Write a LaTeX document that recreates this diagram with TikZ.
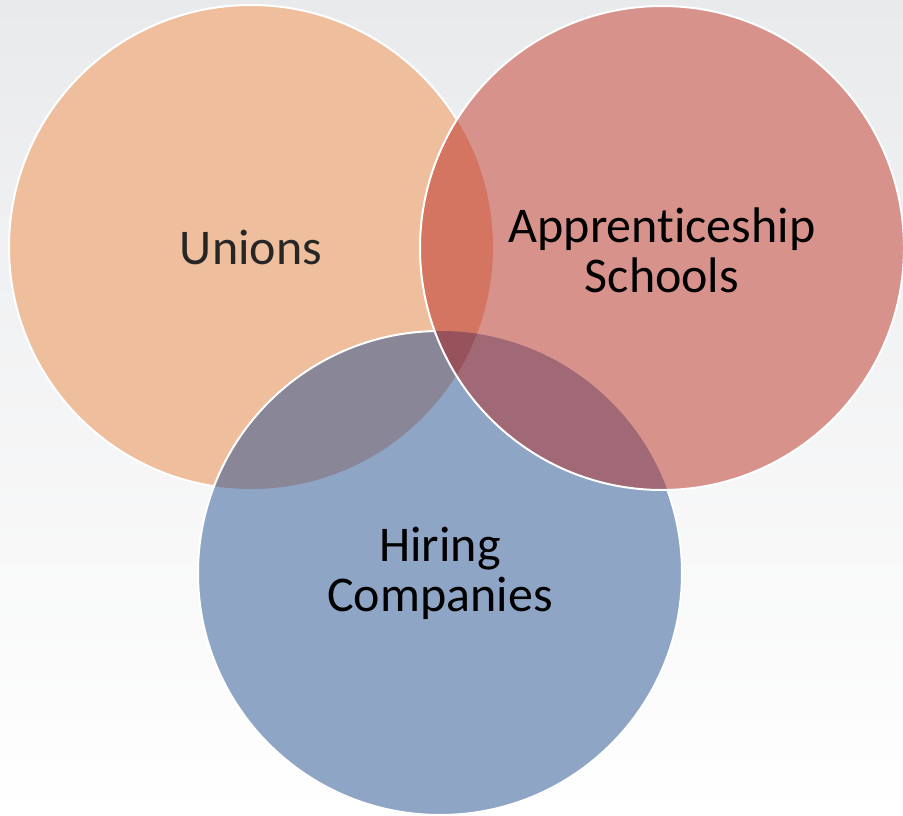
\documentclass[tikz,border=0pt]{standalone}
\usepackage{fontspec}
\setmainfont{Carlito}[Ligatures=CommonOff]
\definecolor{bgtop}{RGB}{233,234,236}
\definecolor{bgmid}{RGB}{245,245,246}
\definecolor{unionsfill}{RGB}{238,190,157}
\definecolor{schoolsfill}{RGB}{216,146,140}
\definecolor{hiringfill}{RGB}{143,165,198}
\definecolor{unionsschools}{RGB}{212,117,97}
\definecolor{unionshiring}{RGB}{136,134,151}
\definecolor{schoolshiring}{RGB}{161,105,117}
\definecolor{allthree}{RGB}{152,82,92}
\tikzset{venn/.style={draw=white,line width=2pt},
         venntext/.style={align=center,text=black,font=\fontsize{50}{50}\selectfont}}
\newcommand{\rad}{242}

\begin{document}
\begin{tikzpicture}[x=1pt,y=-1pt]
    \useasboundingbox (0,0) rectangle (903,816);
    \shade[top color=bgtop,middle color=bgmid,bottom color=white] (0,0) rectangle (903,816);
    \coordinate (unions) at (251,247);
    \coordinate (schools) at (662,248);
    \coordinate (hiring) at (440,573);
    \fill[unionsfill] (unions) circle (\rad);
    \draw[venn] (unions) circle (\rad);
    \fill[hiringfill] (hiring) circle (\rad);
    \begin{scope}
        \clip (unions) circle (\rad);
        \fill[unionshiring] (hiring) circle (\rad);
    \end{scope}
    \draw[venn] (hiring) circle (\rad);
    \fill[schoolsfill] (schools) circle (\rad);
    \begin{scope}
        \clip (unions) circle (\rad);
        \fill[unionsschools] (schools) circle (\rad);
    \end{scope}
    \begin{scope}
        \clip (hiring) circle (\rad);
        \fill[schoolshiring] (schools) circle (\rad);
        \clip (unions) circle (\rad);
        \fill[allthree] (schools) circle (\rad);
    \end{scope}
    \draw[venn] (schools) circle (\rad);
    \node[venntext,text=black!85] (unionslabel) at (unions) {Unions};
    \node[venntext] (schoolslabel) at ([yshift=-2]schools) {Apprenticeship\\Schools};
    \node[venntext] (hiringlabel) at (hiring) {Hiring\\Companies};
\end{tikzpicture}
\end{document}
